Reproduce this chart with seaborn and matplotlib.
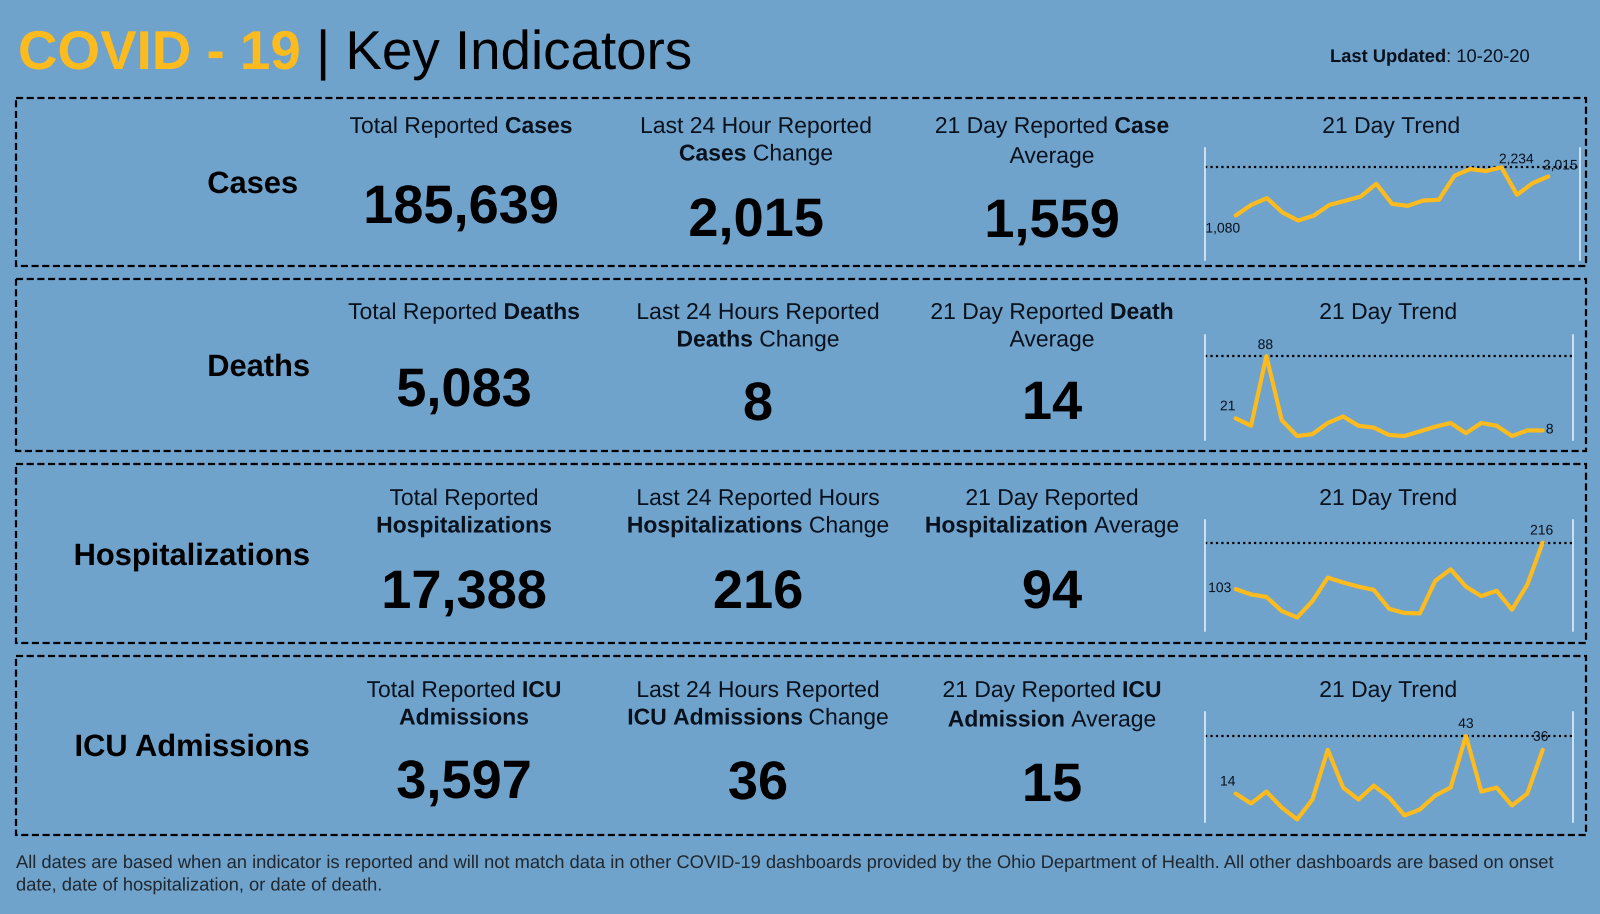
import matplotlib
matplotlib.use("Agg")
import matplotlib.patheffects as pe
import matplotlib.pyplot as plt
import numpy as np
import pandas as pd
import seaborn as sns
from matplotlib.font_manager import FontProperties
from matplotlib.patches import Rectangle
from matplotlib.textpath import text_to_path

cases = [1080, 1336, 1496, 1152, 960, 1080, 1336, 1432, 1536, 1840, 1360,
         1312, 1440, 1456, 2032, 2192, 2144, 2234, 1576, 1856, 2015]
deaths = [21, 13, 88, 19, 2, 4, 16, 23, 13, 11, 3, 2, 7, 12, 16, 5, 16, 13, 2, 8, 8]
hospitalizations = [103, 90, 84, 50, 34, 74, 131, 119, 109, 101, 55,
                    45, 44, 123, 151, 109, 86, 99, 53, 114, 216]
icu_admissions = [14, 9, 15, 7, 1, 11, 36, 17, 11, 18, 12, 3, 6, 13, 17, 43, 15, 17, 8, 14, 36]

row_names = ["Cases", "Deaths", "Hospitalizations", "ICU Admissions"]
totals = ["185,639", "5,083", "17,388", "3,597"]
changes = ["2,015", "8", "216", "36"]
averages = ["1,559", "14", "94", "15"]

# heading lines: list of lines, each line a list of (text, bold)
total_heads = [
    [[("Total Reported ", False), ("Cases", True)]],
    [[("Total Reported ", False), ("Deaths", True)]],
    [[("Total Reported", False)], [("Hospitalizations", True)]],
    [[("Total Reported ", False), ("ICU", True)], [("Admissions", True)]],
]
change_heads = [
    [[("Last 24 Hour Reported", False)], [("Cases ", True), ("Change", False)]],
    [[("Last 24 Hours Reported", False)], [("Deaths ", True), ("Change", False)]],
    [[("Last 24 Reported Hours", False)], [("Hospitalizations ", True), ("Change", False)]],
    [[("Last 24 Hours Reported", False)], [("ICU Admissions ", True), ("Change", False)]],
]
average_heads = [
    [[("21 Day Reported ", False), ("Case", True)], [("Average", False)]],
    [[("21 Day Reported ", False), ("Death", True)], [("Average", False)]],
    [[("21 Day Reported", False)], [("Hospitalization ", True), ("Average", False)]],
    [[("21 Day Reported ", False), ("ICU", True)], [("Admission ", True), ("Average", False)]],
]
footnote = [
    "All dates are based when an indicator is reported and will not match data in other COVID-19 dashboards provided by the Ohio Department of Health. All other dashboards are based on onset",
    "date, date of hospitalization, or date of death.",
]

BG = "#70a3cc"
GOLD = "#fdbb1e"
INK = "#08111c"

sns.set_theme(style="white", rc={"axes.facecolor": "none", "figure.facecolor": BG})
plt.rcParams["font.family"] = ["Liberation Sans", "DejaVu Sans"]
# path rendering keeps the text sizes continuous instead of snapping to whole pixels
plt.rcParams["path.effects"] = [pe.Normal()]

W, H = 1600, 914
fig = plt.figure(figsize=(W / 100, H / 100), dpi=100, facecolor=BG)
canvas = fig.add_axes([0, 0, 1, 1])
canvas.set_xlim(0, W)
canvas.set_ylim(H, 0)
canvas.axis("off")


def text_width(s, size, bold):
    # width in pixels, the trailing dot keeps end spaces in the measure
    prop = FontProperties(family="Liberation Sans", weight="bold" if bold else "normal", size=size)
    full = text_to_path.get_text_width_height_descent(s + ".", prop, False)[0]
    dot = text_to_path.get_text_width_height_descent(".", prop, False)[0]
    return (full - dot) * fig.dpi / 72


def rich_line(xc, y, parts, size, color=INK, left=False):
    # draw normal/bold pieces side by side on one baseline, centred on xc
    widths = [text_width(p[0], size, p[1]) for p in parts]
    x = xc if left else xc - sum(widths) / 2
    for part, w in zip(parts, widths):
        c = part[2] if len(part) > 2 else color
        canvas.text(x, y, part[0].replace(" ", "\u00a0"), fontsize=size,
                    fontweight="bold" if part[1] else "normal",
                    color=c, va="baseline", ha="left")
        x += w


def heading(xc, y, lines, gap=27.5, size=16.5):
    for i, parts in enumerate(lines):
        rich_line(xc, y + i * gap, parts, size)


boxes = [(98, 266), (279, 451), (464, 643), (656, 835)]
for top, bottom in boxes:
    canvas.add_patch(Rectangle((15.5, top), 1570.5, bottom - top, fill=False,
                               edgecolor="black", linewidth=1.6, linestyle=(0, (3.2, 1.6))))

rich_line(18, 69, [("COVID - 19", True, GOLD), (" | Key Indicators", False, "black")], 39.4, left=True)
rich_line(1330, 62, [("Last Updated", True), (": 10-20-20", False)], 13.2, left=True)

row_label_right = [298, 310, 310, 310]
row_label_y = [185, 368, 557, 748]
total_x = [461, 464, 464, 464]
change_x = [756, 758, 758, 758]
avg_x = [1052, 1052, 1052, 1052]
head_y = [133, 319, 505, 697]
avg_gap = [30, 27.5, 27.5, 29.5]
total_num_y = [206, 389, 591, 781]
change_num_y = [219, 403, 591, 782]
avg_num_y = [220, 402, 591, 784]
trend_x = [1391, 1388, 1388, 1388]

for i, name in enumerate(row_names):
    canvas.text(row_label_right[i], row_label_y[i], name, fontsize=22.2, fontweight="bold",
                color="black", ha="right", va="center")
    heading(total_x[i], head_y[i], total_heads[i])
    heading(change_x[i], head_y[i], change_heads[i])
    heading(avg_x[i], head_y[i], average_heads[i], gap=avg_gap[i])
    heading(trend_x[i], head_y[i], [[("21 Day Trend", False)]])
    for x, y, s in [(total_x[i], total_num_y[i], totals[i]),
                    (change_x[i], change_num_y[i], changes[i]),
                    (avg_x[i], avg_num_y[i], averages[i])]:
        canvas.text(x, y + 17, s, fontsize=39, fontweight="bold", color="black", ha="center", va="baseline")

for i, line in enumerate(footnote):
    canvas.text(16, 868 + i * 22.5, line, fontsize=13.18, color="#20272e", ha="left", va="baseline")

# sparkline panels: pixel box, first/last point pixel x, y limits
panels = [
    dict(vals=cases, box=(1205, 1580, 148, 260), px=(1235.7, 1548.3), ylim=(16, 2696),
         notes={0: (-13, -13), 17: (15, 8), 20: (12, 11)}),
    dict(vals=deaths, box=(1205, 1573, 335, 440), px=(1235.7, 1542.7), ylim=(-2.3, 110.5),
         notes={0: (-8, 12), 2: (-1, 11), 20: (7, 1)}),
    dict(vals=hospitalizations, box=(1205, 1573, 520, 631), px=(1235.7, 1542.7), ylim=(1.3, 270.7),
         notes={0: (-16, 1), 20: (-1, 12)}),
    dict(vals=icu_admissions, box=(1205, 1573, 712, 822), px=(1235.7, 1542.7), ylim=(-0.3, 55),
         notes={0: (-8, 12), 15: (0, 12), 20: (-2, 13)}),
]

for p in panels:
    left, right, top, bottom = p["box"]
    ax = fig.add_axes([left / W, 1 - bottom / H, (right - left) / W, (bottom - top) / H])
    df = pd.DataFrame({"day": np.arange(len(p["vals"])), "value": p["vals"]})
    sns.lineplot(data=df, x="day", y="value", color=GOLD, linewidth=3.0, ax=ax, clip_on=False)
    step = (p["px"][1] - p["px"][0]) / (len(df) - 1)
    ax.set_xlim(-(p["px"][0] - left) / step, (right - p["px"][0]) / step)
    ax.set_ylim(*p["ylim"])
    ax.axhline(df["value"].max(), color="black", linewidth=1.6, linestyle=(0, (1, 1.45)), zorder=1)
    ax.set(xlabel="", ylabel="", xticks=[], yticks=[])
    for side in ["top", "bottom"]:
        ax.spines[side].set_visible(False)
    for side in ["left", "right"]:
        ax.spines[side].set_color("#e6f2fb")
        ax.spines[side].set_linewidth(1.1)
    for idx, (dx, dy) in p["notes"].items():
        ax.annotate(f"{p['vals'][idx]:,}", (idx, p["vals"][idx]), xytext=(dx * 0.72, dy * 0.72),
                    textcoords="offset points", ha="center", va="center",
                    fontsize=10, color=INK, annotation_clip=False)

fig.savefig("out.png", dpi=100, facecolor=BG)
